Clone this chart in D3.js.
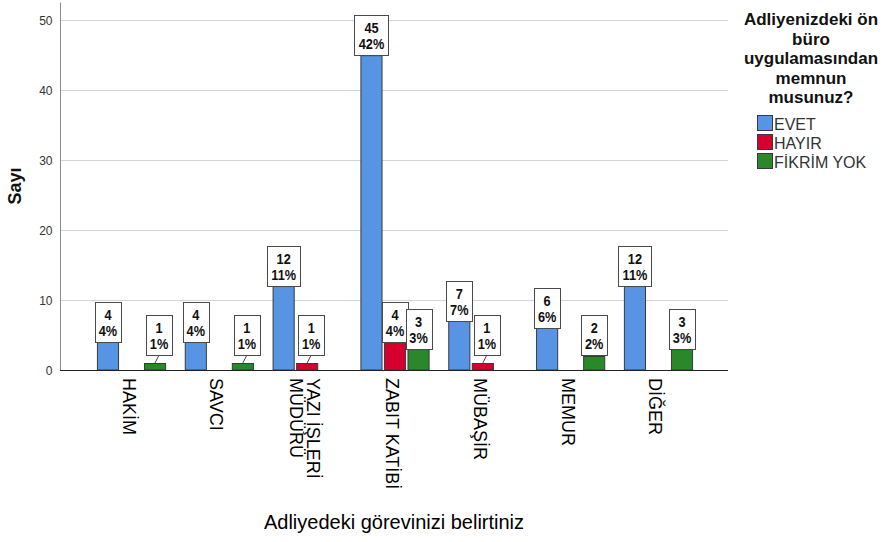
<!DOCTYPE html>
<html>
<head>
<meta charset="utf-8">
<script src="https://cdn.jsdelivr.net/npm/d3@7"></script>
<style>
  body { margin: 0; background: #fff; }
  svg { display: block; font-family: "Liberation Sans", Arial, sans-serif; }
</style>
</head>
<body>
<div id="chart"></div>
<script>
// dades
const categories = ["HAKİM", "SAVCI", "YAZI İŞLERİ MÜDÜRÜ", "ZABIT KATİBİ", "MÜBAŞİR", "MEMUR", "DİĞER"];
const series = ["EVET", "HAYIR", "FİKRİM YOK"];
const evet = [4, 4, 12, 45, 7, 6, 12];
const hayir = [0, 0, 1, 4, 1, 0, 0];
const fikrimYok = [1, 1, 0, 3, 0, 2, 3];
const yTicks = [0, 10, 20, 30, 40, 50];
const legendTitle = ["Adliyenizdeki ön", "büro", "uygulamasından", "memnun", "musunuz?"];
const xTitle = "Adliyedeki görevinizi belirtiniz";
const yTitle = "Sayı";

const values = { "EVET": evet, "HAYIR": hayir, "FİKRİM YOK": fikrimYok };
const total = d3.sum([...evet, ...hayir, ...fikrimYok]);

const rows = [];
categories.forEach((c, i) => {
    series.forEach(s => {
        rows.push({ cat: c, serie: s, value: values[s][i] });
    });
});

const colors = {
    "EVET": "#5795e4",
    "HAYIR": "#d6002f",
    "FİKRİM YOK": "#2a872a"
};

const W = 889, H = 542;
const plot = { left: 60, right: 728, top: 2, bottom: 370 };

const svg = d3.select("#chart").append("svg")
    .attr("width", W)
    .attr("height", H);

// escales
const y = d3.scaleLinear()
    .domain([0, 52.6])
    .range([plot.bottom, plot.top]);

const x0 = d3.scaleBand()
    .domain(categories)
    .range([87.6, 702.4]);

const bw = x0.bandwidth();
const x1 = d3.scaleBand()
    .domain(series)
    .range([bw / 2 - 36, bw / 2 + 36])
    .padding(0.06);

// graella
svg.append("g")
    .selectAll("line")
    .data(yTicks.filter(t => t > 0))
    .enter()
    .append("line")
        .attr("x1", plot.left + 1)
        .attr("x2", plot.right)
        .attr("y1", d => Math.round(y(d)) + 0.5)
        .attr("y2", d => Math.round(y(d)) + 0.5)
        .attr("stroke", "#d4d4d4")
        .attr("stroke-width", 1);

// eix Y
const yAxis = svg.append("g")
    .attr("transform", `translate(${plot.left + 0.5}, 0.5)`)
    .call(d3.axisLeft(y).tickValues(yTicks).tickSize(0).tickPadding(8));
yAxis.select(".domain").attr("stroke", "#8a8a8a").attr("d", `M0,${plot.top}V${plot.bottom}`);
yAxis.selectAll("text")
    .style("font-size", "12px")
    .style("font-family", "'Liberation Sans', Arial, sans-serif")
    .attr("fill", "#333");

svg.append("text")
    .attr("transform", `translate(21, 186) rotate(-90)`)
    .attr("text-anchor", "middle")
    .style("font-size", "18px")
    .style("font-weight", "bold")
    .attr("fill", "#111")
    .text(yTitle);

// barres
const bars = rows.filter(d => d.value > 0);

svg.append("g")
    .selectAll("rect")
    .data(bars)
    .enter()
    .append("rect")
        .attr("x", d => x0(d.cat) + x1(d.serie) + 0.5)
        .attr("y", d => y(d.value) + 0.5)
        .attr("width", x1.bandwidth() - 1)
        .attr("height", d => y(0) - y(d.value) - 0.5)
        .attr("fill", d => colors[d.serie])
        .attr("stroke", "#3a3a3a")
        .attr("stroke-width", 1);

// eix X (línia base)
svg.append("line")
    .attr("x1", plot.left)
    .attr("x2", plot.right)
    .attr("y1", plot.bottom + 0.5)
    .attr("y2", plot.bottom + 0.5)
    .attr("stroke", "#222");

// etiquetes de valor (text estret: Liberation Sans escalat)
const narrow = 0.85;
const labels = svg.append("g");

bars.forEach(d => {
    const cx = x0(d.cat) + x1(d.serie) + x1.bandwidth() / 2;
    const top = y(d.value);
    const boxBottom = Math.min(top, y(0) - 15);
    const lifted = top - boxBottom > 3;
    const bx = lifted ? cx + 4 : cx;
    const pct = Math.round(d.value / total * 100) + "%";

    const g = labels.append("g");
    if (lifted) {
        g.append("line")
            .attr("x1", bx).attr("y1", boxBottom)
            .attr("x2", cx).attr("y2", top)
            .attr("stroke", "#444");
    }
    const rect = g.append("rect").attr("fill", "#fff").attr("stroke", "#4a4a4a");
    const t = g.append("g")
        .attr("transform", `translate(${bx}, ${boxBottom - 40 + 18}) scale(${narrow}, 1)`)
        .append("text")
            .attr("text-anchor", "middle")
            .style("font-size", "15px")
            .style("font-weight", "bold")
            .attr("fill", "#111");
    const s1 = t.append("tspan").attr("x", 0).attr("y", 0).text(d.value);
    const s2 = t.append("tspan").attr("x", 0).attr("y", 16).text(pct);
    const tw = Math.max(s1.node().getComputedTextLength(), s2.node().getComputedTextLength()) * narrow;
    const bwid = Math.round(tw + 8);
    rect.attr("x", Math.round(bx - bwid / 2) + 0.5)
        .attr("y", Math.round(boxBottom - 40) + 0.5)
        .attr("width", bwid)
        .attr("height", 40);
});

// etiquetes de categoria (verticals)
function wrapLabel(label) {
    const words = label.split(" ");
    if (words.length > 2) {
        return [words.slice(0, words.length - 1).join(" "), words[words.length - 1]];
    }
    return [label];
}

categories.forEach(c => {
    const cx = x0(c) + bw / 2 - 2.5;
    const lines = wrapLabel(c);
    const off = (lines.length - 1) / 2 * 17;
    const t = svg.append("text")
        .attr("transform", `translate(${cx + off - 6.5}, 378) rotate(90)`)
        .style("font-size", "18px")
        .attr("fill", "#000");
    lines.forEach((line, i) => {
        t.append("tspan").attr("x", 0).attr("y", i * 17).text(line);
    });
});

// títol eix X
svg.append("text")
    .attr("x", (plot.left + plot.right) / 2)
    .attr("y", 529)
    .attr("text-anchor", "middle")
    .style("font-size", "20px")
    .attr("fill", "#000")
    .text(xTitle);

// llegenda
const legend = svg.append("g");
const lt = legend.append("text")
    .attr("text-anchor", "middle")
    .style("font-size", "17px")
    .style("font-weight", "bold")
    .attr("fill", "#111");
lt.selectAll("tspan")
    .data(legendTitle)
    .enter()
    .append("tspan")
        .attr("x", 811)
        .attr("y", (d, i) => 25 + i * 19.5)
        .text(d => d);

const items = legend.selectAll("g.item")
    .data(series)
    .enter()
    .append("g")
        .attr("class", "item")
        .attr("transform", (d, i) => `translate(757, ${115 + i * 19})`);

items.append("rect")
    .attr("x", 0.5).attr("y", 0.5)
    .attr("width", 15).attr("height", 15)
    .attr("fill", d => colors[d])
    .attr("stroke", "#3a3a3a");

items.append("text")
    .attr("x", 17)
    .attr("y", 14.5)
    .style("font-size", "16px")
    .attr("fill", "#333")
    .text(d => d);
</script>
</body>
</html>
